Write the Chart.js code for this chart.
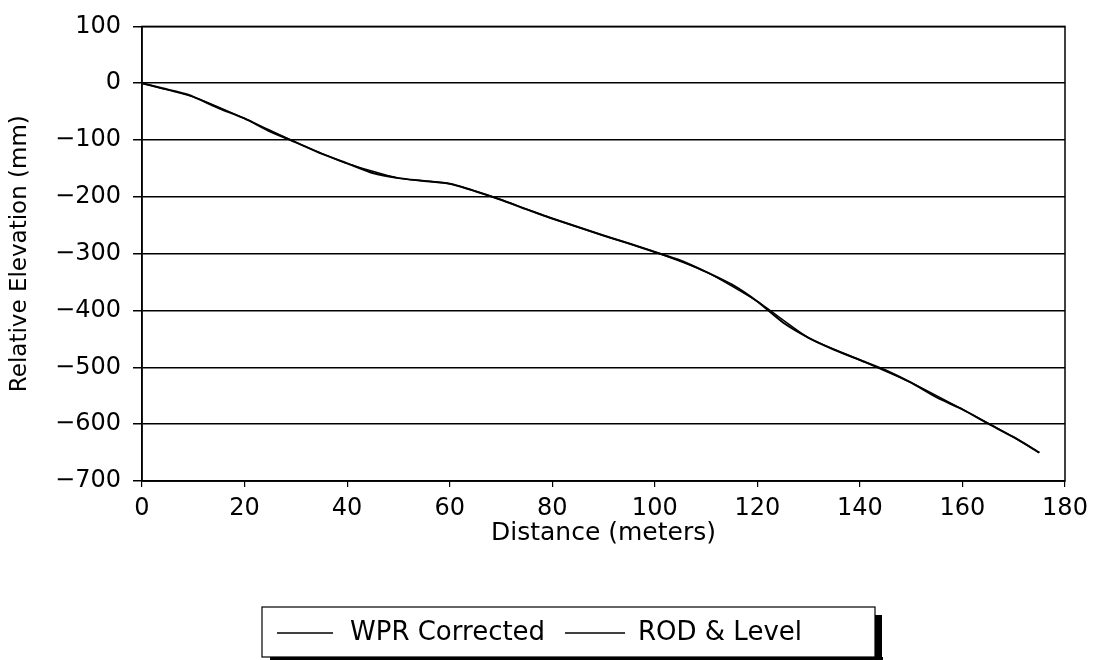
<!DOCTYPE html>
<html>
<head>
<meta charset="utf-8">
<title>Relative Elevation vs Distance</title>
<script src="https://cdn.jsdelivr.net/npm/chart.js@4.4.0/dist/chart.umd.min.js"></script>
<style>
  html, body { margin: 0; padding: 0; background: #ffffff; }
  #wrap { width: 1096px; height: 660px; position: relative; }
</style>
</head>
<body>
<div id="wrap"><canvas id="elevChart"></canvas></div>
<script>
// --- Data ---
const wprDistance = [0, 4, 9, 15, 20, 25, 30, 35, 40, 45, 50, 55, 60, 65, 70, 75, 80, 85, 90,
                     95, 100, 105, 110, 115, 120, 125, 130, 135, 140, 145, 150, 155, 160, 165, 170, 175];
const wprElevation = [0, -9, -20, -44, -62, -85, -104, -124, -141, -158, -167, -172, -177, -190, -205, -222, -238, -253, -268,
                      -282, -297, -312, -332, -354, -384, -421, -448, -469, -487, -505, -527, -553, -574, -599, -623, -650];

const rodDistance = [0, 10, 20, 30, 40, 50, 60, 70, 80, 90, 100, 110, 120, 130, 140, 150, 160, 170, 175];
const rodElevation = [0, -24, -62, -104, -141, -167, -177, -205, -238, -268, -297, -332, -384, -448, -487, -527, -574, -623, -650];

const seriesLabels = ['WPR Corrected', 'ROD & Level'];
const xTicks = [0, 20, 40, 60, 80, 100, 120, 140, 160, 180];
const yTicks = [100, 0, -100, -200, -300, -400, -500, -600, -700];

const FONT = "'DejaVu Sans', sans-serif";

function toPoints(xs, ys) {
    return xs.map((x, i) => ({ x: x, y: ys[i] }));
}

// --- Frame around the plot area ---
const frameBox = {
    id: 'frameBox',
    afterDatasetsDraw(chart) {
        const a = chart.chartArea;
        const ctx = chart.ctx;
        ctx.save();
        ctx.strokeStyle = '#000';
        ctx.lineWidth = 1.5;
        ctx.strokeRect(a.left, a.top, a.right - a.left, a.bottom - a.top);
        ctx.restore();
    }
};

// --- Boxed legend with drop shadow, drawn below the axis title ---
const boxedLegend = {
    id: 'boxedLegend',
    afterDraw(chart) {
        const ctx = chart.ctx;
        const box = { x: 262, y: 607, w: 613, h: 50 };
        const items = [
            { lineX: 277, lineW: 56, textX: 350 },
            { lineX: 565, lineW: 60, textX: 638 }
        ];
        ctx.save();
        // shadow
        ctx.fillStyle = '#000';
        ctx.fillRect(box.x + box.w, box.y + 8, 7, box.h - 5);
        ctx.fillRect(box.x + 8, box.y + box.h, box.w, 3);
        // box
        ctx.fillStyle = '#fff';
        ctx.fillRect(box.x, box.y, box.w, box.h);
        ctx.strokeStyle = '#000';
        ctx.lineWidth = 1.2;
        ctx.strokeRect(box.x, box.y, box.w, box.h);
        // entries
        const cy = box.y + box.h / 2 + 1;
        ctx.font = '26px ' + FONT;
        ctx.textBaseline = 'middle';
        ctx.textAlign = 'left';
        chart.data.datasets.forEach((ds, i) => {
            const it = items[i];
            ctx.strokeStyle = ds.borderColor;
            ctx.lineWidth = 1.5;
            ctx.beginPath();
            ctx.moveTo(it.lineX, cy);
            ctx.lineTo(it.lineX + it.lineW, cy);
            ctx.stroke();
            ctx.fillStyle = '#000';
            ctx.fillText(ds.label, it.textX, cy);
        });
        ctx.restore();
    }
};

const ctx = document.getElementById('elevChart').getContext('2d');
const elevChart = new Chart(ctx, {
    type: 'line',
    data: {
        datasets: [
            {
                label: seriesLabels[0],
                data: toPoints(wprDistance, wprElevation),
                borderColor: '#000',
                borderWidth: 2,
                pointRadius: 0,
                tension: 0.2,
                fill: false
            },
            {
                label: seriesLabels[1],
                data: toPoints(rodDistance, rodElevation),
                borderColor: '#000',
                borderWidth: 1.5,
                pointRadius: 0,
                tension: 0.2,
                fill: false
            }
        ]
    },
    options: {
        responsive: true,
        maintainAspectRatio: false,
        animation: false,
        layout: { padding: { left: 0, right: 31, top: 19, bottom: 100 } },
        plugins: {
            legend: { display: false },
            tooltip: { enabled: false }
        },
        scales: {
            x: {
                type: 'linear',
                min: 0,
                max: 180,
                afterBuildTicks: (scale) => { scale.ticks = xTicks.map(v => ({ value: v })); },
                afterFit: (scale) => { scale.height = 79; },
                border: { display: true, color: '#000', width: 1.5 },
                grid: { drawOnChartArea: false, drawTicks: true, tickLength: 6, color: '#000', lineWidth: 1.2 },
                ticks: {
                    color: '#000',
                    padding: 7,
                    maxRotation: 0,
                    font: { family: FONT, size: 24 }
                },
                title: {
                    display: true,
                    text: 'Distance (meters)',
                    color: '#000',
                    padding: { top: 0, bottom: 14 },
                    font: { family: FONT, size: 25, lineHeight: 1 }
                }
            },
            y: {
                type: 'linear',
                min: -700,
                max: 100,
                afterBuildTicks: (scale) => { scale.ticks = yTicks.map(v => ({ value: v })); },
                afterFit: (scale) => { scale.width = 142; },
                border: { display: true, color: '#000', width: 1.5 },
                grid: { color: '#000', lineWidth: 1.5, tickLength: 9 },
                ticks: {
                    color: '#000',
                    padding: 12,
                    font: { family: FONT, size: 24 },
                    callback: (v) => String(v).replace('-', '\u2212')
                },
                title: {
                    display: true,
                    text: 'Relative Elevation (mm)',
                    color: '#000',
                    padding: { top: 6, bottom: 0 },
                    font: { family: FONT, size: 23 }
                }
            }
        }
    },
    plugins: [frameBox, boxedLegend]
});
</script>
</body>
</html>
